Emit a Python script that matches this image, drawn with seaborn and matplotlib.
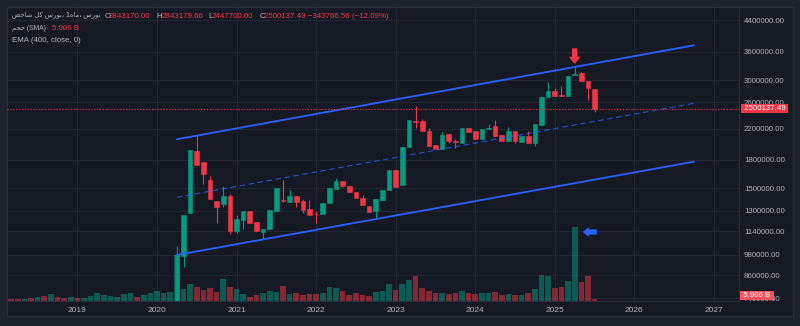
import re
import numpy as np
import pandas as pd
import matplotlib
matplotlib.use("Agg")
import matplotlib.pyplot as plt
import seaborn as sns
from matplotlib.patches import Rectangle, Polygon
from matplotlib.transforms import IdentityTransform
from matplotlib.ticker import FixedLocator, NullLocator, FuncFormatter
from matplotlib.colors import to_rgba

# ------------------------------------------------------------------ data
candle_months = pd.period_range("2020-04", "2025-07", freq="M")
opens = [660000, 972000, 1283000, 1906000, 1772000, 1585000, 1383000, 1357000, 1428000,
         1143000, 1225000, 1297000, 1209000, 1136000, 1158000, 1300000, 1392000, 1377000,
         1428000, 1383000, 1314000, 1272000, 1270000, 1363000, 1496000, 1572000, 1525000,
         1465000, 1413000, 1339000, 1300000, 1392000, 1484000, 1687000, 1532000, 1959000,
         2310000, 2310000, 2166000, 1980000, 1930000, 2121000, 2030000, 2009000, 2204000,
         2166000, 2058000, 2200000, 2237000, 2107000, 2036000, 2170000, 2022000, 2098000,
         2002000, 2251000, 2699000, 2805000, 2720000, 2716000, 3110000, 3136000, 2985000,
         2843170.00]
highs = [1038000, 1264000, 1918000, 2111000, 1772000, 1626000, 1383000, 1522000, 1447000,
         1262000, 1297000, 1297000, 1209000, 1158000, 1305000, 1500000, 1582000, 1484000,
         1428000, 1401000, 1392000, 1297000, 1363000, 1500000, 1600000, 1572000, 1525000,
         1465000, 1440000, 1339000, 1398000, 1484000, 1687000, 1687000, 1951000, 2325000,
         2548000, 2344000, 2204000, 1980000, 2152000, 2121000, 2054000, 2208000, 2204000,
         2166000, 2190000, 2261000, 2325000, 2107000, 2227000, 2170000, 2098000, 2166000,
         2261000, 2689000, 2960000, 2848000, 2890000, 3088000, 3271000, 3156000, 2985000,
         2843179.66]
lows = [650000, 906000, 1283000, 1745000, 1539000, 1398000, 1203000, 1333000, 1121000,
        1124000, 1158000, 1203000, 1141000, 1084000, 1158000, 1300000, 1377000, 1377000,
        1333000, 1283000, 1264000, 1203000, 1270000, 1363000, 1496000, 1510000, 1462000,
        1413000, 1345000, 1291000, 1238000, 1392000, 1484000, 1516000, 1532000, 1959000,
        2212000, 2166000, 1971000, 1930000, 1930000, 2002000, 1946000, 2009000, 2156000,
        2058000, 2058000, 2200000, 2102000, 2036000, 2036000, 2002000, 2022000, 2002000,
        1971000, 2251000, 2699000, 2716000, 2716000, 2716000, 3110000, 2990000, 2643000,
        2447700.00]
closes = [978000, 1264000, 1918000, 1745000, 1647000, 1398000, 1333000, 1428000, 1141000,
          1232000, 1297000, 1203000, 1141000, 1158000, 1305000, 1500000, 1383000, 1428000,
          1377000, 1305000, 1264000, 1270000, 1363000, 1500000, 1572000, 1525000, 1462000,
          1413000, 1345000, 1291000, 1398000, 1484000, 1687000, 1516000, 1951000, 2325000,
          2300000, 2166000, 1971000, 1930000, 2111000, 2032000, 2022000, 2208000, 2156000,
          2058000, 2190000, 2204000, 2102000, 2036000, 2170000, 2032000, 2098000, 2002000,
          2261000, 2689000, 2805000, 2716000, 2716000, 3088000, 3116000, 2990000, 2848000,
          2500137.49]
change_abs = -343766.56
change_pct = -12.09

volume_months = pd.period_range("2018-03", "2025-07", freq="M")
volumes_b = [6, 6, 7, 10.5, 14, 18.5, 23.5, 14, 11.5, 15, 10.5, 11.5, 18.5, 28, 22, 18.5,
             15, 24.5, 28, 14, 22, 29, 36, 28, 30.5,
             161, 42, 58.5, 49.5, 38.5, 44.5, 31.5, 77, 49, 42, 24.5, 14, 21, 27, 36, 31.5,
             51.5, 24.5, 29, 21, 24.5, 24.5, 29, 49, 44.5, 34, 21, 27, 21, 17.5, 31.5, 36,
             59.5, 38.5, 58.5, 72.5, 87.5, 45.5, 36, 29, 29, 25.5, 28, 35, 29, 24.5, 29, 29,
             31.5, 20, 24.5, 22, 21, 29, 43, 91, 87.5, 44.5, 50, 70, 259, 67.5, 87.5, 5.906]
# bar direction for the months before the first visible candle (2018-03 .. 2020-03)
early_up = [0, 0, 1, 0, 1, 0, 1, 0, 0, 1, 0, 1, 1, 1, 1, 1, 1, 1, 1, 0, 1, 1, 1, 1, 1]

channel_months = ["2020-04", "2026-10"]
channel_upper = [2054000, 3752000]
channel_middle = [1416000, 2587000]
channel_lower = [978000, 1779000]

price_ticks = [740000, 860000, 980000, 1140000, 1300000, 1500000, 1800000, 2200000,
               2600000, 3000000, 3600000, 4400000]
year_labels = [2019, 2020, 2021, 2022, 2023, 2024, 2025, 2026, 2027]

title_text = "شاخص کل بورس، 1ماه، بورس"
volume_title = "حجم (SMA)"
ema_text = "EMA (400, close, 0)"

# ------------------------------------------------------------------ helpers
FORMS = {
    "ا": ("\uFE8D", "\uFE8E", None, None),
    "ب": ("\uFE8F", "\uFE90", "\uFE91", "\uFE92"),
    "ج": ("\uFE9D", "\uFE9E", "\uFE9F", "\uFEA0"),
    "ح": ("\uFEA1", "\uFEA2", "\uFEA3", "\uFEA4"),
    "خ": ("\uFEA5", "\uFEA6", "\uFEA7", "\uFEA8"),
    "ر": ("\uFEAD", "\uFEAE", None, None),
    "س": ("\uFEB1", "\uFEB2", "\uFEB3", "\uFEB4"),
    "ش": ("\uFEB5", "\uFEB6", "\uFEB7", "\uFEB8"),
    "ص": ("\uFEB9", "\uFEBA", "\uFEBB", "\uFEBC"),
    "ک": ("\uFB8E", "\uFB8F", "\uFB90", "\uFB91"),
    "ل": ("\uFEDD", "\uFEDE", "\uFEDF", "\uFEE0"),
    "م": ("\uFEE1", "\uFEE2", "\uFEE3", "\uFEE4"),
    "ه": ("\uFEE9", "\uFEEA", "\uFEEB", "\uFEEC"),
    "و": ("\uFEED", "\uFEEE", None, None),
}


def shape_run(run):
    out = []
    for i, ch in enumerate(run):
        f = FORMS[ch]
        prev = run[i - 1] if i > 0 else None
        nxt = run[i + 1] if i < len(run) - 1 else None
        jp = prev is not None and FORMS[prev][2] is not None
        jn = nxt is not None and f[2] is not None
        out.append(f[3] if (jp and jn) else f[1] if jp else f[2] if jn else f[0])
    return "".join(reversed(out))


def visual(text):
    return re.sub("[" + "".join(FORMS) + "]+", lambda mo: shape_run(mo.group()), text)


def month_index(p):
    p = pd.Period(p, freq="M")
    return (p.year - 2020) * 12 + (p.month - 1)


# ------------------------------------------------------------------ style
sns.set_theme(style="dark")
FONTS = ["Liberation Sans", "DejaVu Sans"]
plt.rcParams["font.family"] = FONTS

OUTER = "#1e222d"
BG = "#151924"
BORDER = "#2a2e39"
GRID = "#232734"
GRAY = "#b2b5be"
GREEN = "#089981"
RED = "#f23645"
BLUE = "#2962ff"
FS = 5.7

W, H = 800, 326
fig = plt.figure(figsize=(W / 100, H / 100), dpi=100, facecolor=OUTER)
renderer = fig.canvas.get_renderer()
fig.add_artist(Rectangle((7 / W, 1 - 316 / H), (793 - 7) / W, (316 - 7) / H,
                         transform=fig.transFigure, facecolor=BG, edgecolor=BORDER,
                         lw=0.8, zorder=-5))

rect = [7 / W, 1 - 301 / H, (739 - 7) / W, (301 - 7) / H]
ax_v = fig.add_axes(rect)
ax = fig.add_axes(rect, sharex=ax_v)
for a in (ax_v, ax):
    a.set_facecolor("none")

cm = np.array([month_index(p) for p in candle_months])
vm = np.array([month_index(p) for p in volume_months])
o, h, l, c = map(np.array, (opens, highs, lows, closes))
up = c >= o
cols = np.where(up, GREEN, RED)

# volume pane
vol_up = list(early_up) + list(up.astype(int))
vcols = [to_rgba(GREEN if u else RED, 0.5) for u in vol_up]
ax_v.bar(vm, volumes_b, width=0.85, color=vcols, linewidth=0)
ax_v.set_ylim(0, 1029)
ax_v.set_axis_off()

# price pane
ax.set_yscale("log")
ax.set_xlim(-22.62, 87.78)
ax.set_ylim(728000, 4796000)
ax.vlines(cm, l, h, colors=cols, lw=0.8, zorder=3)
ax.bar(cm, np.abs(c - o), bottom=np.minimum(o, c), width=0.7, color=cols,
       edgecolor=cols, linewidth=0.4, zorder=4)

chx = [month_index(p) for p in channel_months]
sns.lineplot(x=chx, y=channel_upper, ax=ax, color=BLUE, lw=1.3, zorder=5)
sns.lineplot(x=chx, y=channel_lower, ax=ax, color=BLUE, lw=1.3, zorder=5)
sns.lineplot(x=chx, y=channel_middle, ax=ax, color=BLUE, lw=0.8, alpha=0.75, zorder=5)
ax.lines[-1].set_linestyle((0, (5, 3.2)))

ax.axhline(closes[-1], color=RED, lw=0.8, ls=(0, (1, 1.6)), zorder=6)

# axes & ticks
ax.yaxis.tick_right()
ax.yaxis.set_major_locator(FixedLocator(price_ticks))
ax.yaxis.set_minor_locator(NullLocator())
ax.yaxis.set_major_formatter(FuncFormatter(lambda v, _: f"{v:.2f}"))
ax.set_xticks([(y - 2020) * 12 for y in year_labels])
ax.set_xticklabels([str(y) for y in year_labels])
ax.tick_params(axis="y", length=0, pad=3.6, labelsize=FS, labelcolor=GRAY)
ax.tick_params(axis="x", length=0, pad=4.2, labelsize=6.0, labelcolor=GRAY)
ax.grid(True, color=GRID, lw=0.7)
ax.set_axisbelow(True)
for s in ("top", "left"):
    ax.spines[s].set_visible(False)
for s in ("right", "bottom"):
    ax.spines[s].set_color(BORDER)
    ax.spines[s].set_linewidth(0.8)
ax.set_xlabel("")
ax.set_ylabel("")

# price and volume tags
ax.annotate(f" {closes[-1]:.2f} ", xy=(1, closes[-1]), xycoords=("axes fraction", "data"),
            xytext=(2.5, 0), textcoords="offset pixels", ha="left", va="center",
            color="white", fontsize=FS, annotation_clip=False, zorder=20,
            bbox=dict(boxstyle="square,pad=0.12", fc=RED, ec="none"))
ax_v.annotate(f" {volumes_b[-1]:.3f} B ", xy=(1, volumes_b[-1]),
              xycoords=("axes fraction", "data"), xytext=(2.0, 4.0),
              textcoords="offset pixels", ha="left", va="center", color="white",
              fontsize=FS, annotation_clip=False, zorder=20,
              bbox=dict(boxstyle="square,pad=0.12", fc="#f7525f", ec="none"))
# make the volume tag sit above the price axis labels
ax_v.set_zorder(ax.get_zorder() + 1)
ax_v.patch.set_visible(False)
for b in ax_v.patches:
    b.set_zorder(0)

# arrows (anchored to the highest candle and biggest volume bar)
ih = int(np.argmax(h))
cx, cy = ax.transData.transform((cm[ih], h[ih]))
ty = cy + 2.7
red_arrow = [(cx, ty), (cx + 6, ty + 7.3), (cx + 2.7, ty + 7.3), (cx + 2.7, ty + 15.7),
             (cx - 2.7, ty + 15.7), (cx - 2.7, ty + 7.3), (cx - 6, ty + 7.3)]
fig.add_artist(Polygon(red_arrow, closed=True, transform=IdentityTransform(),
                       facecolor=RED, edgecolor="none", zorder=30))
iv = int(np.argmax(volumes_b))
bx, by = ax_v.transData.transform((vm[iv] + 0.425, volumes_b[iv]))
tx, vy = bx + 5.2, by - 5.0
blue_arrow = [(tx, vy), (tx + 6, vy + 4.8), (tx + 6, vy + 2.6), (tx + 14, vy + 2.6),
              (tx + 14, vy - 2.6), (tx + 6, vy - 2.6), (tx + 6, vy - 4.8)]
fig.add_artist(Polygon(blue_arrow, closed=True, transform=IdentityTransform(),
                       facecolor=BLUE, edgecolor="none", zorder=30))


# header legend
def ftxt(x, y, s, color=GRAY, max_w=None):
    t = fig.text(x / W, 1 - y / H, s, color=color, fontsize=FS, ha="left", va="center",
                 family=FONTS, zorder=40)
    if max_w is not None:
        w = t.get_window_extent(renderer).width
        if w > max_w:
            t.set_fontsize(FS * max_w / w)
    return t


ftxt(11.7, 16, visual(title_text), max_w=88)
ftxt(104.3, 16, "O")
ftxt(109.0, 16, f"{opens[-1]:.2f}", RED)
ftxt(156.0, 16, "H")
ftxt(161.3, 16, f"{highs[-1]:.2f}", RED)
ftxt(208.0, 16, "L")
ftxt(212.0, 16, f"{lows[-1]:.2f}", RED)
ftxt(259.3, 16, "C")
ftxt(264.0, 16, f"{closes[-1]:.2f} \u2212{abs(change_abs):.2f} (\u2212{abs(change_pct):.2f}%)", RED)
ftxt(11.7, 29, visual(volume_title), max_w=34)
ftxt(51.7, 29, f"{volumes_b[-1]:.3f} B", RED)
ftxt(11.7, 40.7, ema_text)

fig.savefig("out.png", dpi=100, facecolor=OUTER)
